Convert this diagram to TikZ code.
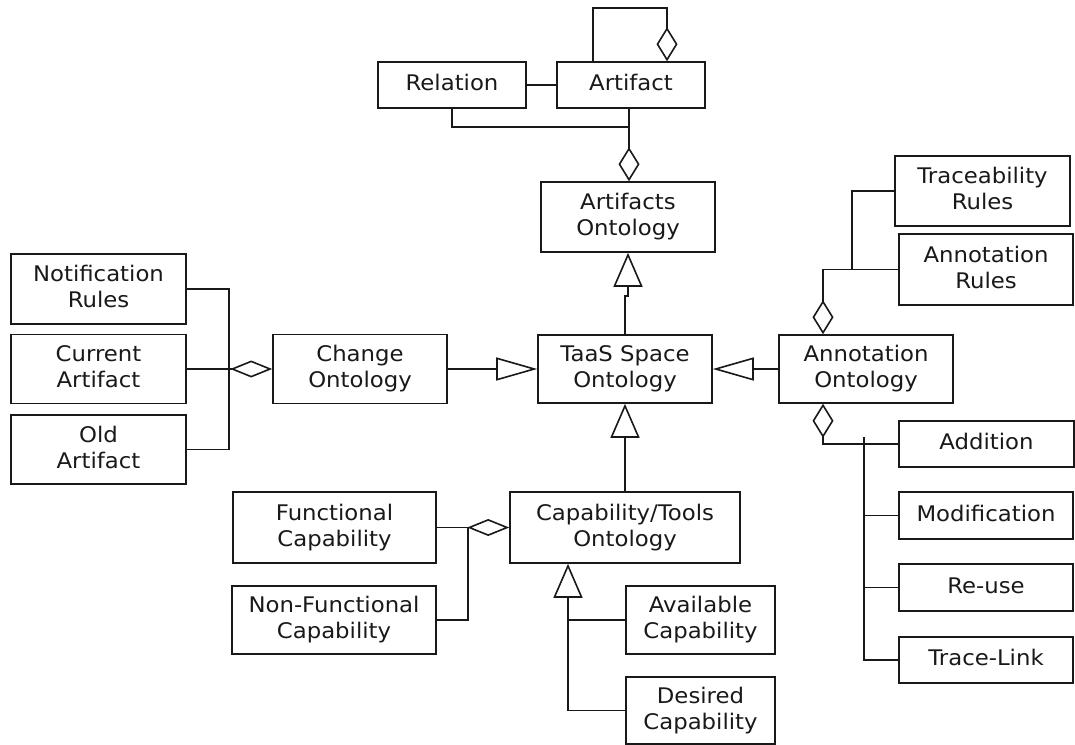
\documentclass[tikz,border=0pt]{standalone}
\usepackage{fontspec}
\setmainfont[FakeStretch=1.06]{DejaVu Sans}
\usetikzlibrary{arrows.meta}
\definecolor{ink}{RGB}{25,25,25}
\newcommand\boxstrut{\vrule width 0pt height 16pt depth 5pt}

\begin{document}
\begin{tikzpicture}[x=1pt,y=-1pt,color=ink,line width=1.6pt,
  box/.style={draw, rectangle, inner sep=0pt, align=center,
    font=\fontsize{21.5}{26}\selectfont,
    execute at begin node=\boxstrut, execute at end node=\boxstrut},
  inhv/.style={-{Triangle[open,length=34pt,width=29pt]}},
  inhh/.style={-{Triangle[open,length=41pt,width=23pt]}},
  aggv/.style={-{Diamond[open,length=34pt,width=21pt]}},
  aggh/.style={-{Diamond[open,length=42pt,width=17pt]}}]
\useasboundingbox (0,0) rectangle (1075,744);

% artifacts branch
\node[box, minimum width=148pt, minimum height=46pt] (rel) at (452,85) {Relation};
\node[box, minimum width=148pt, minimum height=46pt] (art) at (631,85) {Artifact};
\node[box, minimum width=174pt, minimum height=70pt] (artont) at (628,217) {Artifacts\\Ontology};

% central row
\node[box, minimum width=174pt, minimum height=68pt] (taas) at (625,369) {TaaS Space\\Ontology};
\node[box, minimum width=174pt, minimum height=69pt] (chg) at (360,369) {Change\\Ontology};
\node[box, minimum width=174pt, minimum height=68pt] (annont) at (866,369) {Annotation\\Ontology};

% change ontology parts
\node[box, minimum width=175pt, minimum height=70pt] (notif) at (98.5,289) {Notification\\Rules};
\node[box, minimum width=175pt, minimum height=69pt] (curr) at (98.5,369) {Current\\Artifact};
\node[box, minimum width=175pt, minimum height=69pt] (old) at (98.5,449.5) {Old\\Artifact};

% annotation ontology parts
\node[box, minimum width=175pt, minimum height=70pt] (trace) at (982.5,191) {Traceability\\Rules};
\node[box, minimum width=174pt, minimum height=71pt] (annrules) at (986,269.5) {Annotation\\Rules};
\node[box, minimum width=175pt, minimum height=46pt] (add) at (986.5,444) {Addition};
\node[box, minimum width=174pt, minimum height=47pt] (mod) at (986,515.5) {Modification};
\node[box, minimum width=174pt, minimum height=47pt] (reuse) at (986,587.5) {Re-use};
\node[box, minimum width=174pt, minimum height=46pt] (tlink) at (986,660) {Trace-Link};

% capability branch
\node[box, minimum width=230pt, minimum height=71pt] (cap) at (625,527.5) {Capability/Tools\\Ontology};
\node[box, minimum width=203pt, minimum height=71pt] (func) at (334.5,527.5) {Functional\\Capability};
\node[box, minimum width=204pt, minimum height=68pt] (nonf) at (334,620) {Non-Functional\\Capability};
\node[box, minimum width=149pt, minimum height=68pt] (avail) at (700.5,620) {Available\\Capability};
\node[box, minimum width=149pt, minimum height=67pt] (desired) at (700.5,710.5) {Desired\\Capability};

% artifact relations
\draw[aggv] ([xshift=-38pt]art.north) -- ++(0,-53) -| ([xshift=36pt]art.north);
\draw (rel.east) -- (art.west);
\coordinate (rj) at (629,127);
\draw (rel.south) |- (rj);
\draw[aggv] (art.south -| rj) -- (artont.north -| rj);

% generalisations towards the TaaS space ontology
\draw[inhv] (taas.north) -- ++(0,-38) -| (artont.south);
\draw[inhh] (chg.east) -- (taas.west);
\draw[inhh] (annont.west) -- (taas.east);
\draw[inhv] (cap.north) -- (taas.south);

% change ontology aggregation
\coordinate (cb) at (229,369);
\draw (notif.east) -| (cb);
\draw (old.east) -| (cb);
\draw (curr.east) -- (cb);
\draw[aggh] (cb) -- (chg.west);

% capability aggregation
\coordinate (fb) at (468,527.5);
\draw (func.east) -- (fb);
\draw (nonf.east) -| (fb);
\draw[aggh] (fb) -- (cap.west);

% capability specialisations
\coordinate (sb) at ([xshift=-57pt]cap.south);
\draw[inhv] (desired.west) -| (sb);
\draw (avail.west) -- (avail.west -| sb);

% annotation rules aggregation
\coordinate (au) at ([xshift=-43pt]annont.north);
\draw[aggv] (annrules.west) -| (au);
\coordinate (tj) at (852,269.5);
\draw (trace.west) -| (tj);

% annotation kinds aggregation
\coordinate (al) at ([xshift=-43pt]annont.south);
\draw[aggv] (add.west) -| (al);
\coordinate (ab) at (864,437);
\draw (tlink.west) -| (ab);
\draw (mod.west) -- (mod.west -| ab);
\draw (reuse.west) -- (reuse.west -| ab);
\end{tikzpicture}
\end{document}
